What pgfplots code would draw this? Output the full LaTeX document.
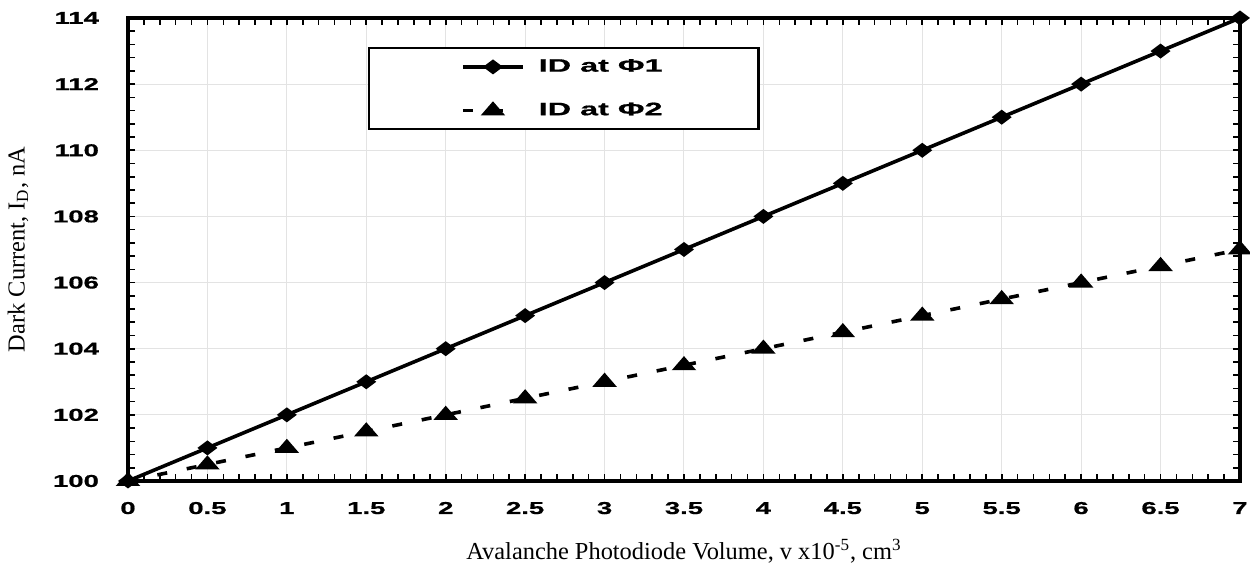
\documentclass[border=0pt]{standalone}
\usepackage{fontspec}
\usepackage{pgfplots}
\pgfplotsset{compat=1.18}
\newfontfamily\tickfont[FakeStretch=1.6, BoldFeatures={FakeBold=0.8}]{Liberation Sans}
\newfontfamily\legfont[FakeStretch=1.8, BoldFeatures={FakeBold=0.8}]{Liberation Sans}
\newfontfamily\timesfont{Liberation Serif}
\begin{document}
\begin{tikzpicture}
\useasboundingbox (-64pt,-42.5pt) rectangle (561pt,240.5pt);
\begin{axis}[
  at={(0,0)}, anchor=south west,
  scale only axis,
  width=556pt, height=231.5pt,
  xmin=0, xmax=7, ymin=100, ymax=114,
  xtick={0,0.5,...,7}, ytick={100,102,...,114},
  minor tick num=4,
  tick align=inside,
  major tick length=3.5pt, minor tick length=3.5pt,
  every tick/.style={black, line width=0.8pt},
  axis line style={line width=2pt},
  grid=major,
  major grid style={gray!22, line width=0.5pt},
  /pgf/number format/assume math mode=true,
  ticklabel style={font=\tickfont\bfseries\fontsize{8.6}{10}\selectfont},
  xticklabel style={anchor=base, yshift=-16.5pt},
  yticklabel style={anchor=east, xshift=-11pt},
  xlabel={Avalanche Photodiode Volume, v x10\textsuperscript{-5}, cm\textsuperscript{3}},
  ylabel={Dark Current, I\textsubscript{D}, nA},
  label style={font=\timesfont\fontsize{12.2}{14}\selectfont},
  xlabel style={at={(0.5,0)}, anchor=center, yshift=-35pt},
  ylabel style={at={(0,0.5)}, anchor=center, yshift=55pt},
  clip=false,
  legend cell align=left,
  legend image code/.code={\draw[mark repeat=2, mark phase=2] plot coordinates {(0pt,0pt)(15pt,0pt)(30pt,0pt)};},
  legend style={at={(0.2158,0.9374)}, anchor=north west,
    draw=black, line width=1.2pt,
    font=\legfont\bfseries\fontsize{9}{11}\selectfont,
    inner xsep=46pt, inner ysep=3.5pt,
    row sep=10pt, column sep=5pt,
    nodes={inner sep=2pt}},
]
\addplot[black, line width=1.8pt, mark=diamond*, mark size=3.5pt, mark options={solid, rotate=90}]
  coordinates {(0,100)(0.5,101)(1,102)(1.5,103)(2,104)(2.5,105)(3,106)(3.5,107)(4,108)(4.5,109)(5,110)(5.5,111)(6,112)(6.5,113)(7,114)};
\addlegendentry{ID at Φ1}
\addplot[black, line width=1.8pt, dash pattern=on 5pt off 10pt, mark=triangle*, mark size=3.2pt, mark options={solid, xscale=1.5}]
  coordinates {(0,100)(0.5,100.5)(1,101)(1.5,101.5)(2,102)(2.5,102.5)(3,103)(3.5,103.5)(4,104)(4.5,104.5)(5,105)(5.5,105.5)(6,106)(6.5,106.5)(7,107)};
\addlegendentry{ID at Φ2}
\end{axis}
\end{tikzpicture}
\end{document}
